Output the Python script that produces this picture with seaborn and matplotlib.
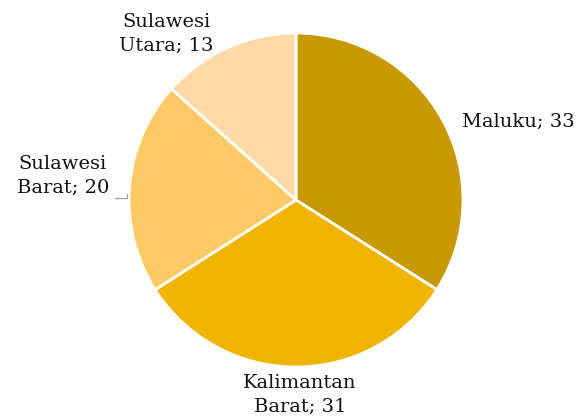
import matplotlib
matplotlib.use("Agg")
import matplotlib.pyplot as plt
import seaborn as sns

categories = ["Maluku", "Kalimantan Barat", "Sulawesi Barat", "Sulawesi Utara"]
values = [33, 31, 20, 13]
label_texts = ["Maluku; 33", "Kalimantan\nBarat; 31", "Sulawesi\nBarat; 20", "Sulawesi\nUtara; 13"]
colors = ["#C89800", "#F0B400", "#FFC966", "#FFDAA8"]

sns.set_theme(style="white")
plt.rcParams['font.family'] = ['DejaVu Serif']

W, H = 577, 419
fig = plt.figure(figsize=(W / 100, H / 100), dpi=100)
ax = fig.add_axes([0, 0, 1, 1])
R = 167.0
cx, cy = 296.0, 200.0

def px(x, y):
    return (x - cx) / R, (cy - y) / R

ax.pie(values, colors=colors, startangle=90, counterclock=False, radius=1,
       wedgeprops=dict(edgecolor="white", linewidth=2))
ax.set_xlim(-cx / R, (W - cx) / R)
ax.set_ylim(-(H - cy) / R, cy / R)
ax.set_aspect("equal")
ax.axis("off")

fs = 14
pos = [((462, 122), "left"), ((300, 395), "center"), ((63, 176), "center"), ((166, 34), "center")]
for txt, ((x, y), ha) in zip(label_texts, pos):
    dx, dy = px(x, y)
    ax.text(dx, dy, txt, ha=ha, va="center", fontsize=fs, color="#111111", linespacing=1.4)

# leader line for Sulawesi Barat
x1, y1 = px(115, 198)
x2, y2 = px(127, 198)
x3, y3 = px(127, 194)
ax.plot([x1, x2, x3], [y1, y2, y3], color="#A6A6A6", lw=1)

fig.savefig("out.png", dpi=100)
